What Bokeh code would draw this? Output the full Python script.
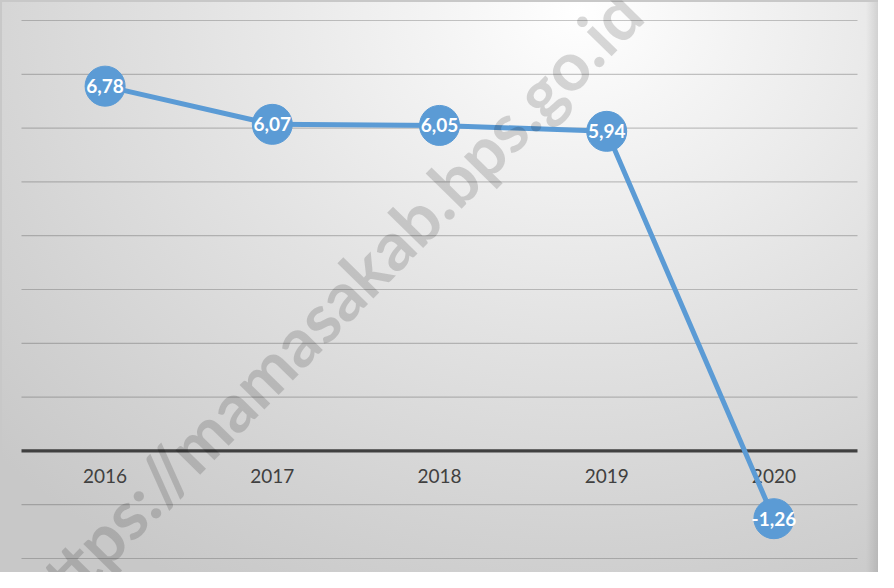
from bokeh.plotting import figure
from bokeh.models import FactorRange, Range1d, ColumnDataSource, Label
from bokeh.core.properties import value
from bokeh.embed import file_html
from bokeh.resources import INLINE

years = ["2016", "2017", "2018", "2019", "2020"]
growth = [6.78, 6.07, 6.05, 5.94, -1.26]
labels = [f"{v:.2f}".replace(".", ",") for v in growth]
y_ticks = [-2, -1, 1, 2, 3, 4, 5, 6, 7, 8]
zero = [0]
watermark = "https://mamasakab.bps.go.id"

src = ColumnDataSource(dict(year=years, val=growth, lab=labels))
n = len(years)
grid_src = ColumnDataSource(dict(x0=[0] * len(y_ticks), x1=[n] * len(y_ticks), y=y_ticks))
zero_src = ColumnDataSource(dict(x0=[0], x1=[n], y=zero))

p = figure(
    width=878, height=572,
    x_range=FactorRange(*years, range_padding=0.1256, range_padding_units="absolute"),
    y_range=Range1d(-2.26, 8.372),
    output_backend="svg", toolbar_location=None,
    min_border=0,
)
p.styles = {
    "background-image": (
        "linear-gradient(to left, rgba(0,0,0,0.10) 0px, rgba(0,0,0,0.05) 6px, rgba(0,0,0,0) 12px), "
        "radial-gradient(ellipse 90% 115% at 66% 2%, #ffffff 0%, #f3f3f3 20%, #e2e2e2 50%, #d2d2d2 80%, #c8c8c8 100%)"
    ),
    "box-shadow": "inset 2px 2px 0 #c8c8c8",
}
p.background_fill_alpha = 0
p.border_fill_alpha = 0
p.outline_line_color = None

p.yaxis.visible = False
p.grid.visible = False

ax = p.xaxis[0]
ax.fixed_location = 0
ax.axis_line_color = None
ax.major_tick_line_color = None
ax.minor_tick_line_color = None
ax.major_label_standoff = 12
ax.major_label_text_font = "Lato"
ax.major_label_text_font_size = "19px"
ax.major_label_text_color = "#404040"
ax.level = "underlay"

p.segment("x0", "y", "x1", "y", source=grid_src, line_color="#505050", line_alpha=0.32, line_width=1.2)
p.segment("x0", "y", "x1", "y", source=zero_src, line_color="#404040", line_width=3.2)

p.line("year", "val", source=src, line_color="#5b9bd5", line_width=5)
p.scatter("year", "val", source=src, size=40, fill_color="#5b9bd5", line_color="#5b9bd5")
p.text("year", "val", text="lab", source=src, text_color="white", text_font=value("Lato"),
       text_font_style="bold", text_font_size="19px", text_align="center", text_baseline="middle")

wm = Label(x=327, y=265, x_units="screen", y_units="screen", text=watermark,
           angle=45.5, angle_units="deg", text_align="center", text_baseline="middle",
           text_font="Lato", text_font_style="bold", text_font_size="68px",
           text_color="black", text_alpha=0.15)
p.add_layout(wm)

open("out.html", "w").write(file_html(p, INLINE))
